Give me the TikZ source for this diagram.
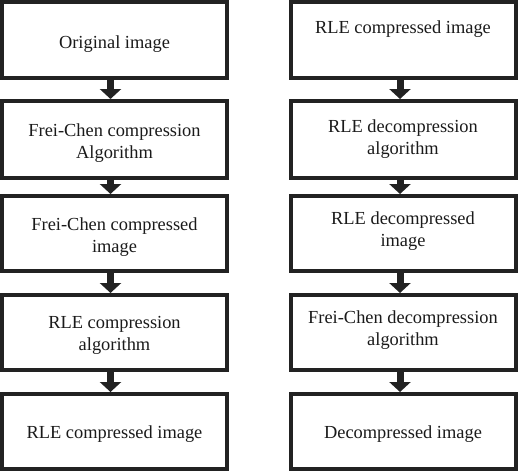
\documentclass[tikz,border=0pt]{standalone}
\usepackage{fontspec}
\setmainfont{Liberation Serif}
\usetikzlibrary{arrows.meta}
\definecolor{boxc}{HTML}{222222}
\definecolor{txtc}{HTML}{1A1A1A}
\newcommand{\twol}[2]{\begin{tabular}{@{}c@{}}#1\\#2\end{tabular}}
\newcommand{\liftby}[2]{\raisebox{#1}[\height][\depth]{#2}}
\begin{document}
\begin{tikzpicture}[x=1pt,y=-1pt,
  box/.style={draw=boxc, line width=4pt, minimum width=225pt, inner sep=0pt,
    text=txtc, font=\fontsize{18.4}{22}\selectfont},
  flow/.style={line width=7pt, draw=boxc, -{Triangle[width=21pt,length=10pt,fill=boxc]}}]
\useasboundingbox (0,0) rectangle (520,472);
% left column
\node[box, minimum height=76pt] (l1) at (114.5,40) {\liftby{-4pt}{Original image}};
\node[box, minimum height=77pt] (l2) at (114.5,139.5) {\liftby{-4pt}{\twol{Frei-Chen compression}{Algorithm}}};
\node[box, minimum height=75pt] (l3) at (114.5,233.5) {\liftby{-4pt}{\twol{Frei-Chen compressed}{image}}};
\node[box, minimum height=75pt] (l4) at (114.5,332.5) {\liftby{-3pt}{\twol{RLE compression}{algorithm}}};
\node[box, minimum height=75pt] (l5) at (114.5,431.5) {\liftby{-3pt}{RLE compressed image}};
% right column
\node[box, minimum height=76pt] (r1) at (403,40) {\twol{RLE compressed image}{\strut}};
\node[box, minimum height=77pt] (r2) at (403,139.5) {\twol{RLE decompression}{algorithm}};
\node[box, minimum height=75pt] (r3) at (403,233.5) {\liftby{2pt}{\twol{RLE decompressed}{image}}};
\node[box, minimum height=75pt] (r4) at (403,332.5) {\liftby{2pt}{\twol{Frei-Chen decompression}{algorithm}}};
\node[box, minimum height=75pt] (r5) at (403,431.5) {\liftby{-3pt}{Decompressed image}};
% arrows
\foreach \a/\b in {l1/l2,l2/l3,l3/l4,l4/l5}
  \draw[flow] ([xshift=-4pt]\a.south) -- ([xshift=-4pt]\b.north);
\foreach \a/\b in {r1/r2,r2/r3,r3/r4,r4/r5}
  \draw[flow] ([xshift=-3pt]\a.south) -- ([xshift=-3pt]\b.north);
\end{tikzpicture}
\end{document}
